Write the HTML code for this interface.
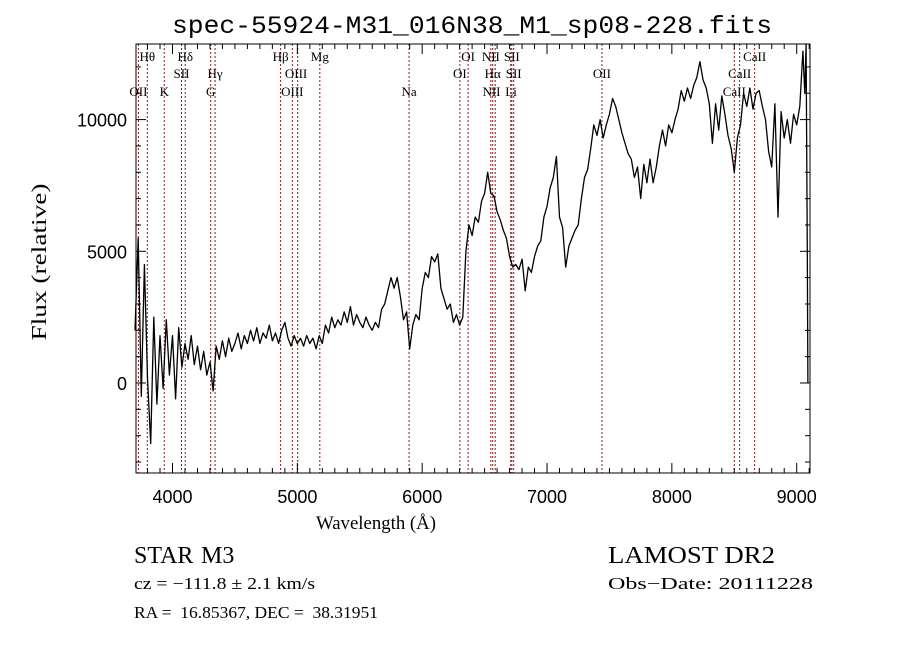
<!DOCTYPE html>
<html><head><meta charset="utf-8"><style>
html,body{margin:0;padding:0;background:#fff;}
svg{display:block;}
text{white-space:pre;}
</style></head><body>
<svg id="chart" width="900" height="649" viewBox="0 0 900 649" xmlns="http://www.w3.org/2000/svg">
<rect width="900" height="649" fill="#fff"/>
<text x="472" y="33" font-family="Liberation Mono, monospace" font-size="25" text-anchor="middle" textLength="600" lengthAdjust="spacingAndGlyphs">spec-55924-M31_016N38_M1_sp08-228.fits</text>
<g id="lines"></g>
<g id="labels" font-family="Liberation Serif, serif" font-size="13" text-anchor="middle"></g>
<path id="spec" fill="none" stroke="#000" stroke-width="1.3" stroke-linejoin="round"/>
<rect x="136" y="44" width="674" height="429" fill="none" stroke="#000" stroke-width="1"/>
<g id="ticks" stroke="#000" stroke-width="1"></g>
<g id="tlabels" font-family="Liberation Sans, sans-serif" font-size="18"></g>
<text x="376" y="529" font-family="Liberation Serif, serif" font-size="19" text-anchor="middle" textLength="120" lengthAdjust="spacingAndGlyphs">Wavelength (Å)</text>
<text transform="translate(46,262) rotate(-90)" font-family="Liberation Serif, serif" font-size="21" text-anchor="middle" textLength="157" lengthAdjust="spacingAndGlyphs">Flux (relative)</text>
<text x="134" y="563" font-family="Liberation Serif, serif" font-size="24">STAR</text>
<text x="201" y="563" font-family="Liberation Serif, serif" font-size="24">M3</text>
<text x="608" y="563" font-family="Liberation Serif, serif" font-size="24" textLength="167" lengthAdjust="spacingAndGlyphs">LAMOST DR2</text>
<text x="134" y="589" font-family="Liberation Serif, serif" font-size="17" textLength="181" lengthAdjust="spacingAndGlyphs">cz = −111.8 ± 2.1 km/s</text>
<text x="608" y="589" font-family="Liberation Serif, serif" font-size="17" textLength="205" lengthAdjust="spacingAndGlyphs">Obs−Date: 20111228</text>
<text x="134" y="618" font-family="Liberation Serif, serif" font-size="17" textLength="244" lengthAdjust="spacingAndGlyphs">RA =  16.85367, DEC =  38.31951</text>
</svg>
<script>
const waves=[3700,3725,3750,3775,3800,3825,3850,3875,3900,3925,3950,3975,4000,4025,4050,4075,4100,4125,4150,4175,4200,4225,4250,4275,4300,4325,4350,4375,4400,4425,4450,4475,4500,4525,4550,4575,4600,4625,4650,4675,4700,4725,4750,4775,4800,4825,4850,4875,4900,4925,4950,4975,5000,5025,5050,5075,5100,5125,5150,5175,5200,5225,5250,5275,5300,5325,5350,5375,5400,5425,5450,5475,5500,5525,5550,5575,5600,5625,5650,5675,5700,5725,5750,5775,5800,5825,5850,5875,5900,5925,5950,5975,6000,6025,6050,6075,6100,6125,6150,6175,6200,6225,6250,6275,6300,6325,6350,6375,6400,6425,6450,6475,6500,6525,6550,6575,6600,6625,6650,6675,6700,6725,6750,6775,6800,6825,6850,6875,6900,6925,6950,6975,7000,7025,7050,7075,7100,7125,7150,7175,7200,7225,7250,7275,7300,7325,7350,7375,7400,7425,7450,7475,7500,7525,7550,7575,7600,7625,7650,7675,7700,7725,7750,7775,7800,7825,7850,7875,7900,7925,7950,7975,8000,8025,8050,8075,8100,8125,8150,8175,8200,8225,8250,8275,8300,8325,8350,8375,8400,8425,8450,8475,8500,8525,8550,8575,8600,8625,8650,8675,8700,8725,8750,8775,8800,8825,8850,8875,8900,8925,8950,8975,9000,9025,9050,9065,9075,9085,9090];
const flux=[2000,5500,-500,4500,200,-2300,2500,-800,1800,-200,2400,300,1800,-600,2100,600,1500,900,1800,700,1400,500,1200,300,800,-300,1400,900,1600,1000,1700,1200,1500,1900,1300,1800,1500,2000,1600,2100,1500,1900,1700,2200,1600,1900,1500,2000,2300,1700,1400,1800,1500,1700,1400,1800,1500,1700,1300,1800,1500,2200,1900,2500,2100,2400,2200,2700,2300,2900,2200,2600,2300,2100,2500,2200,2000,2300,2100,2800,3000,3500,4000,3600,4000,3300,2400,2700,1300,2200,2600,2400,3600,4200,4000,4800,4600,4900,3600,3200,2800,3000,2300,2600,2200,2500,5000,6000,5600,6300,6100,6900,7200,8000,7200,7100,6500,6200,5800,5500,4800,4400,4500,4300,4700,3500,4400,4200,4800,5200,5400,6300,6700,7400,7800,8600,6300,5900,4400,5200,5500,5800,6000,7000,7800,8100,8900,9800,9400,10000,9300,9800,10200,10800,10500,10000,9500,9100,8700,8500,7800,8200,7000,8300,7600,8500,7600,8200,9000,9600,9000,9800,9500,10000,10400,11100,10700,11200,10800,11300,11600,12200,11500,11200,10600,9100,10600,9600,10900,10200,9400,8900,8000,9300,9800,11000,10500,11200,10400,11000,11100,10500,10000,8800,8200,10600,6300,10300,9300,10000,9100,10200,9800,10500,12600,11000,12900,5000,0];
const lineWaves=[3727,3798,3934,4072,4102,4306,4341,4866,4960,5003,5180,5895,6302,6368,6550,6565,6585,6709,6718,6733,7440,8500,8543,8663];
const labelNames=["Hθ","Hδ","Hβ","Mg","OI","NII","SII","CaII","SII","Hγ","OIII","OI","Hα","SII","OII","CaII","OII","K","G","OIII","Na","NII","Li","CaII"];
const labelWaves=[3798,4102,4866,5180,6368,6550,6718,8663,4072,4341,4990,6302,6565,6733,7440,8543,3727,3934,4306,4960,5895,6555,6712,8500];
const labelRows=[0,0,0,0,0,0,0,0,1,1,1,1,1,1,1,1,2,2,2,2,2,2,2,2];
const xTicks=[4000,5000,6000,7000,8000,9000];
const yTicks=[0,5000,10000];
const NS="http://www.w3.org/2000/svg";
const X=w=>172.5+(w-4000)*0.12484;
const Y=f=>383-f*0.02634;
function mk(tag,attrs,parent){const e=document.createElementNS(NS,tag);for(const k in attrs)e.setAttribute(k,attrs[k]);parent.appendChild(e);return e;}
let d="";
for(let i=0;i<waves.length;i++){d+=(i?"L":"M")+X(waves[i]).toFixed(1)+","+Math.max(44,Math.min(473,Y(flux[i]))).toFixed(1);}
document.getElementById('spec').setAttribute('d',d);
const lg=document.getElementById('lines');
for(const w of lineWaves){const l=mk('line',{x1:X(w),x2:X(w),y1:44,y2:473,stroke:'#8b1a1a','stroke-width':1,'stroke-dasharray':'2,2'},lg);

}
const lab=document.getElementById('labels');
const rowY=[61,78,96];
for(let i=0;i<labelNames.length;i++){const t=mk('text',{x:X(labelWaves[i]),y:rowY[labelRows[i]]},lab);t.textContent=labelNames[i];

}
const tg=document.getElementById('ticks'),tl=document.getElementById('tlabels');
for(let w=3800;w<=9100;w+=100){const big=w%1000===0;const x=X(w);
mk('line',{x1:x,x2:x,y1:473,y2:473-(big?10:5)},tg);mk('line',{x1:x,x2:x,y1:44,y2:44+(big?10:5)},tg);}
for(let f=-3000;f<=12000;f+=1000){const big=f%5000===0;const y=Y(f);
mk('line',{x1:136,x2:136+(big?10:5),y1:y,y2:y},tg);mk('line',{x1:810,x2:810-(big?10:5),y1:y,y2:y},tg);}
for(const w of xTicks){const t=mk('text',{x:X(w),y:503,'text-anchor':'middle'},tl);t.textContent=w;

}
for(const f of yTicks){const t=mk('text',{x:127,y:Y(f)+7,'text-anchor':'end'},tl);t.textContent=f;

}
</script>
</body></html>
